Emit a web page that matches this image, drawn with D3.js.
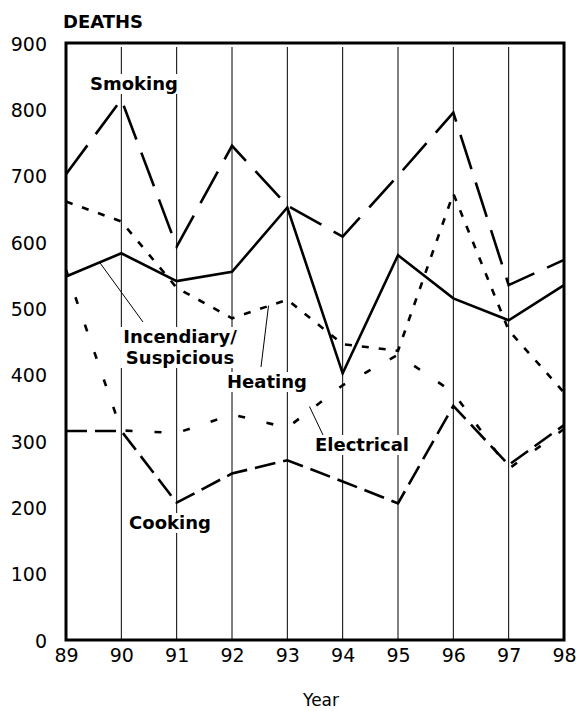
<!DOCTYPE html>
<html>
<head>
<meta charset="utf-8">
<script src="https://cdn.jsdelivr.net/npm/d3@7"></script>
<style>
  html, body { margin: 0; padding: 0; background: #fff; }
  svg { display: block; font-family: "DejaVu Sans", sans-serif; }
</style>
</head>
<body>
<svg id="chart" width="576" height="711"></svg>
<script>
// Home fire deaths by cause, 1989-1998
const years      = [89, 90, 91, 92, 93, 94, 95, 96, 97, 98];
const smoking    = [702, 815, 593, 745, 655, 608, 700, 795, 535, 573];
const incendiary = [548, 583, 541, 555, 652, 402, 580, 515, 482, 535];
const heating    = [661, 631, 531, 485, 513, 446, 436, 673, 467, 373];
const electrical = [558, 316, 312, 340, 320, 384, 430, 373, 258, 318];
const cooking    = [315, 315, 207, 251, 271, 239, 206, 353, 264, 324];
const yTicks     = [0, 100, 200, 300, 400, 500, 600, 700, 800, 900];

(function () {
  const svg = d3.select("#chart");
  const plotLeft = 66, plotRight = 564, plotTop = 43, plotBottom = 640;

  const x = d3.scaleLinear().domain([89, 98]).range([plotLeft, plotRight]);
  const y = d3.scaleLinear().domain([0, 900]).range([plotBottom, plotTop]);

  // vertical year gridlines
  svg.append("g").selectAll("line")
    .data(years.slice(1, -1))
    .join("line")
    .attr("x1", d => x(d)).attr("x2", d => x(d))
    .attr("y1", plotTop + 4).attr("y2", plotBottom)
    .attr("stroke", "#000").attr("stroke-width", 1);

  // y axis labels
  const yAxis = d3.axisLeft(y).tickValues(yTicks).tickSize(0).tickPadding(19)
    .tickFormat(d3.format("d"));
  svg.append("g").attr("transform", `translate(${plotLeft},1)`).call(yAxis)
    .call(g => g.select(".domain").remove())
    .selectAll("text")
    .attr("font-size", 19).attr("font-family", "DejaVu Sans").attr("fill", "#000");

  // x axis labels
  const xAxis = d3.axisBottom(x).tickValues(years).tickSize(0).tickPadding(9)
    .tickFormat(d3.format("d"));
  svg.append("g").attr("transform", `translate(0,${plotBottom})`).call(xAxis)
    .call(g => g.select(".domain").remove())
    .selectAll("text")
    .attr("font-size", 19).attr("font-family", "DejaVu Sans").attr("fill", "#000");

  // series lines
  const series = [
    { name: "Smoking",    values: smoking,    dash: "36,14" },
    { name: "Incendiary", values: incendiary, dash: null },
    { name: "Heating",    values: heating,    dash: "7,10" },
    { name: "Electrical", values: electrical, dash: "7,22" },
    { name: "Cooking",    values: cooking,    dash: "21,8" }
  ];

  const line = d3.line().x((d, i) => x(years[i])).y(d => y(d));

  svg.append("g").selectAll("path")
    .data(series)
    .join("path")
    .attr("d", d => line(d.values))
    .attr("fill", "none")
    .attr("stroke", "#000")
    .attr("stroke-width", 2.6)
    .attr("stroke-linejoin", "miter")
    .attr("stroke-dasharray", d => d.dash);

  // leader lines from labels to their series
  const leaders = [
    { from: [89.61, 569], to: [143, 322] },
    { from: [92.66, 504], to: [261, 367] },
    { from: [93.40, 352], to: [323, 435] }
  ];
  svg.append("g").selectAll("line")
    .data(leaders)
    .join("line")
    .attr("x1", d => x(d.from[0])).attr("y1", d => y(d.from[1]))
    .attr("x2", d => d.to[0]).attr("y2", d => d.to[1])
    .attr("stroke", "#000").attr("stroke-width", 1);

  // series labels on white knockouts
  const labels = [
    { lines: ["Smoking"], x: 134, y: 90 },
    { lines: ["Incendiary/", "Suspicious"], x: 180, y: 343 },
    { lines: ["Heating"], x: 267, y: 388 },
    { lines: ["Electrical"], x: 362, y: 451 },
    { lines: ["Cooking"], x: 170, y: 529 }
  ];
  const lg = svg.append("g");
  labels.forEach(l => {
    const g = lg.append("g");
    const t = g.append("text")
      .attr("text-anchor", "middle")
      .attr("font-size", 18).attr("font-weight", "bold")
      .attr("fill", "#000");
    l.lines.forEach((s, i) => {
      t.append("tspan").attr("x", l.x).attr("y", l.y + i * 21).text(s);
    });
    const b = t.node().getBBox();
    g.insert("rect", "text")
      .attr("x", b.x - 3).attr("y", b.y + 1)
      .attr("width", b.width + 6).attr("height", b.height - 1)
      .attr("fill", "#fff");
  });

  // frame
  svg.append("rect")
    .attr("x", plotLeft).attr("y", plotTop)
    .attr("width", plotRight - plotLeft).attr("height", plotBottom - plotTop)
    .attr("fill", "none").attr("stroke", "#000").attr("stroke-width", 3);

  // titles
  svg.append("text")
    .attr("x", 63).attr("y", 28)
    .attr("font-size", 18).attr("font-weight", "bold")
    .text("DEATHS");

  svg.append("text")
    .attr("x", 321).attr("y", 706)
    .attr("text-anchor", "middle")
    .attr("font-size", 17)
    .text("Year");
})();
</script>
</body>
</html>
